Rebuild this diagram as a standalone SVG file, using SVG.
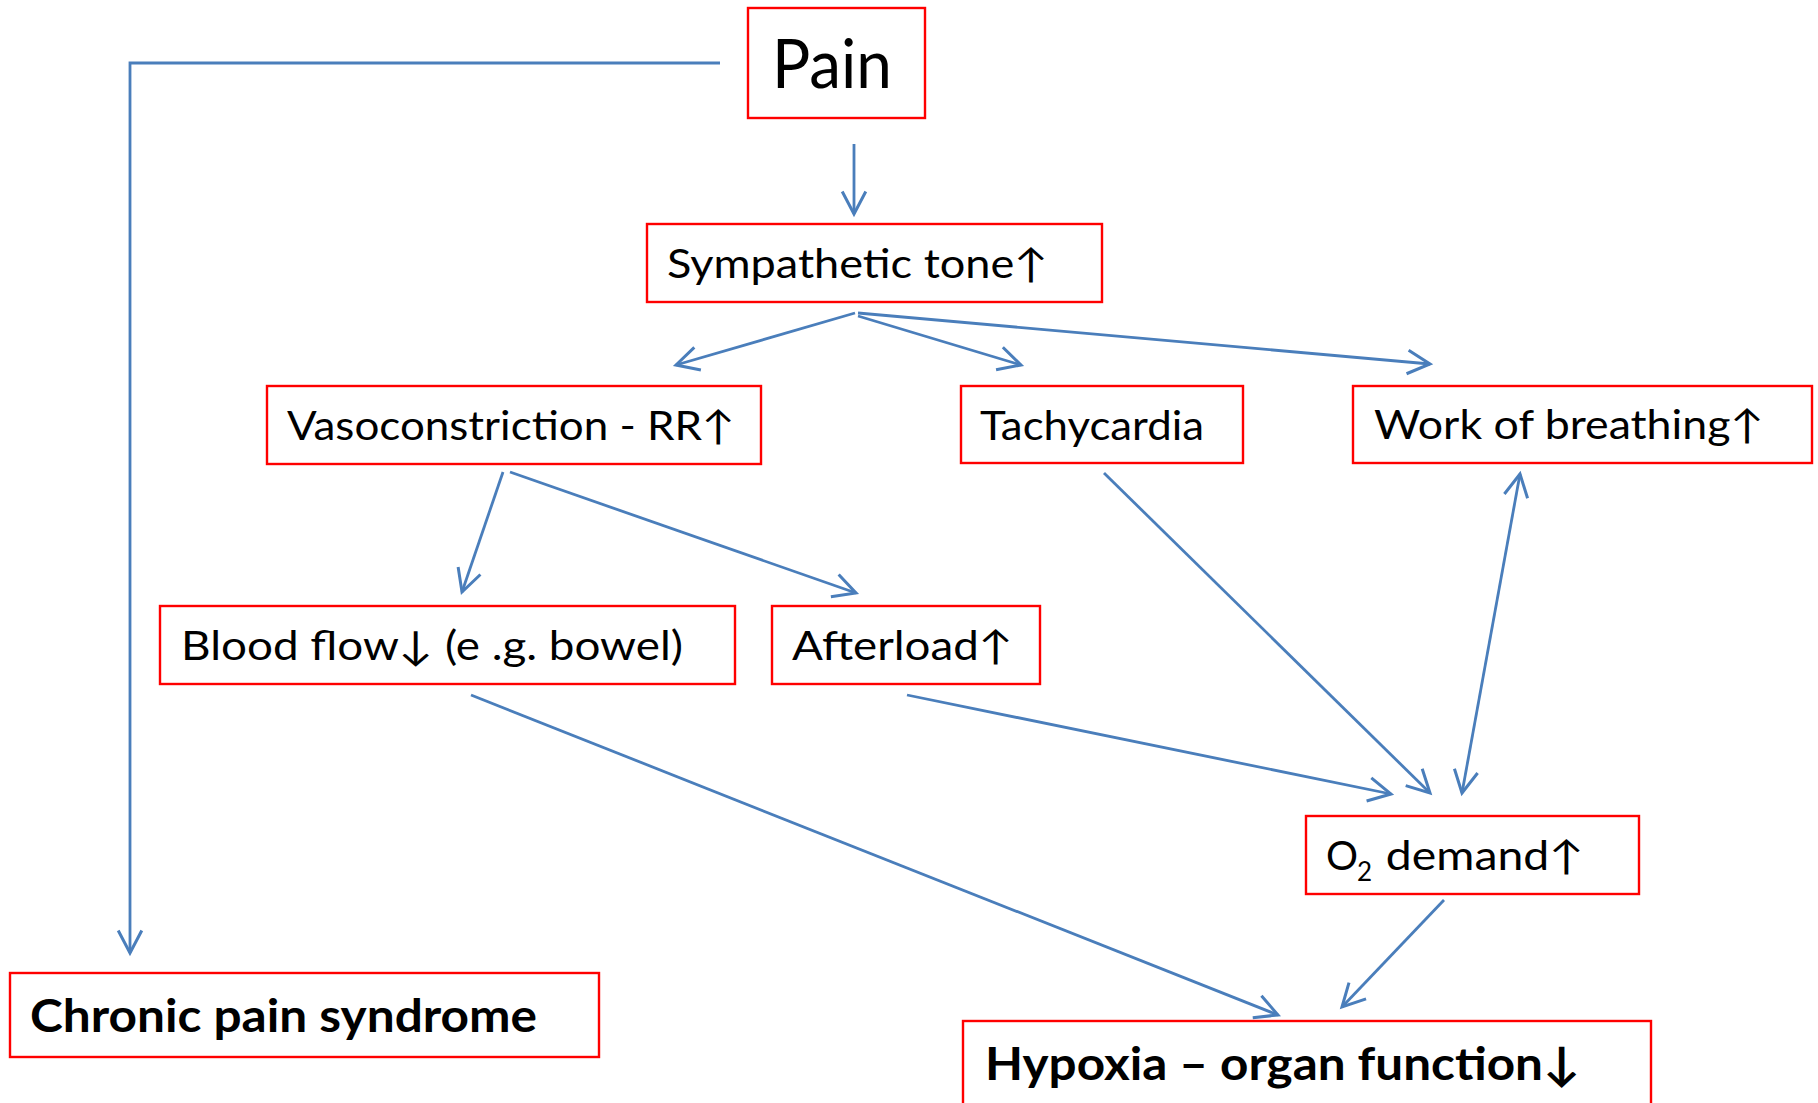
<svg xmlns="http://www.w3.org/2000/svg" width="1818" height="1103" viewBox="0 0 1818 1103">
<style>
.box{fill:#fff;stroke:#ff0000;stroke-width:2.4}
.t{font-family:Lato,"Open Sans","Liberation Sans",sans-serif;font-size:40px;fill:#000}
.b{font-family:Lato,"Open Sans","Liberation Sans",sans-serif;font-size:46px;font-weight:bold;fill:#000}
.c{fill:none;stroke:#4a7ebb;stroke-width:2.8}
</style>
<defs>
<marker id="ah" markerUnits="userSpaceOnUse" markerWidth="30" markerHeight="30" viewBox="-24 -14 28 28" refX="0" refY="0" orient="auto-start-reverse">
<path d="M-21,-11 L0,0 L-21,11" fill="none" stroke="#4a7ebb" stroke-width="2.8"/>
</marker>
</defs>
<rect width="1818" height="1103" fill="#fff"/>
<g id="connectors">
<polyline class="c" points="720,63 130,63 130,953" marker-end="url(#ah)"/>
<line class="c" x1="854" y1="144" x2="854" y2="214" marker-end="url(#ah)"/>
<line class="c" x1="855" y1="313" x2="676" y2="365" marker-end="url(#ah)"/>
<line class="c" x1="858" y1="316" x2="1021" y2="365" marker-end="url(#ah)"/>
<line class="c" x1="858" y1="313" x2="1430" y2="364" marker-end="url(#ah)"/>
<line class="c" x1="503" y1="472" x2="462" y2="592" marker-end="url(#ah)"/>
<line class="c" x1="510" y1="472" x2="856" y2="593" marker-end="url(#ah)"/>
<line class="c" x1="1104" y1="473" x2="1430" y2="793" marker-end="url(#ah)"/>
<line class="c" x1="1520" y1="474" x2="1462" y2="793" marker-start="url(#ah)" marker-end="url(#ah)"/>
<line class="c" x1="907" y1="695" x2="1391" y2="794" marker-end="url(#ah)"/>
<line class="c" x1="471" y1="695" x2="1278" y2="1015" marker-end="url(#ah)"/>
<line class="c" x1="1444" y1="900" x2="1342" y2="1007" marker-end="url(#ah)"/>
</g>
<g id="pain"><rect class="box" x="748" y="8" width="177" height="110"/><text class="t" style="font-size:67px" x="772" y="88" textLength="120" lengthAdjust="spacingAndGlyphs">Pain</text></g>
<g id="sympathetic"><rect class="box" x="647" y="224" width="455" height="78"/><text class="t" x="667" y="278" textLength="381" lengthAdjust="spacingAndGlyphs">Sympathetic tone↑</text></g>
<g id="vasoconstriction"><rect class="box" x="267" y="386" width="494" height="78"/><text class="t" x="287" y="440" textLength="448" lengthAdjust="spacingAndGlyphs">Vasoconstriction - RR↑</text></g>
<g id="tachycardia"><rect class="box" x="961" y="386" width="282" height="77"/><text class="t" x="980" y="440" textLength="224" lengthAdjust="spacingAndGlyphs">Tachycardia</text></g>
<g id="wob"><rect class="box" x="1353" y="386" width="459" height="77"/><text class="t" x="1374" y="439" textLength="390" lengthAdjust="spacingAndGlyphs">Work of breathing↑</text></g>
<g id="bloodflow"><rect class="box" x="160" y="606" width="575" height="78"/><text class="t" x="181" y="660" textLength="502" lengthAdjust="spacingAndGlyphs">Blood flow↓ (e .g. bowel)</text></g>
<g id="afterload"><rect class="box" x="772" y="606" width="268" height="78"/><text class="t" x="792" y="660" textLength="221" lengthAdjust="spacingAndGlyphs">Afterload↑</text></g>
<g id="o2demand"><rect class="box" x="1306" y="816" width="333" height="78"/><text class="t" y="870"><tspan x="1326">O</tspan><tspan x="1357" y="881" style="font-size:26px">2</tspan><tspan x="1374" y="870" textLength="210" lengthAdjust="spacingAndGlyphs"> demand↑</tspan></text></g>
<g id="chronic"><rect class="box" x="10" y="973" width="589" height="84"/><text class="b" x="30" y="1032" textLength="507" lengthAdjust="spacingAndGlyphs">Chronic pain syndrome</text></g>
<g id="hypoxia"><rect class="box" x="963" y="1021" width="688" height="100"/><text class="b" x="985" y="1080" textLength="595" lengthAdjust="spacingAndGlyphs">Hypoxia – organ function↓</text></g>
</svg>
